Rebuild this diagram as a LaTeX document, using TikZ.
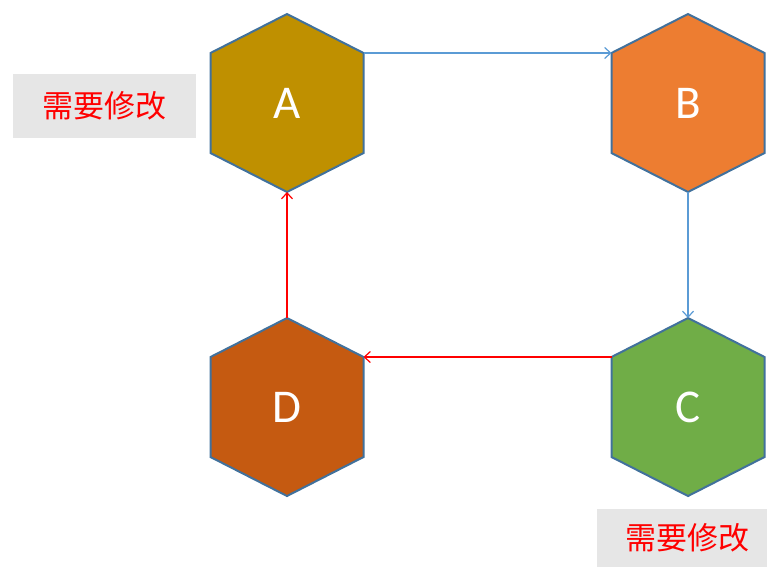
\documentclass[tikz,border=0pt]{standalone}
\usepackage{fontspec}
\setmainfont{Carlito}
\newfontfamily\cjk{Noto Sans CJK SC}
\usetikzlibrary{arrows.meta,backgrounds}
\definecolor{colA}{HTML}{BF9000}
\definecolor{colB}{HTML}{ED7D31}
\definecolor{colC}{HTML}{70AD47}
\definecolor{colD}{HTML}{C55A11}
\definecolor{hexborder}{HTML}{41719C}
\definecolor{lineblue}{HTML}{5B9BD5}
\definecolor{boxgray}{HTML}{E6E6E6}
\tikzset{
  hexnode/.style={rectangle, minimum width=153pt, minimum height=178pt, inner sep=0pt, outer sep=0pt,
    text=white, font=\fontsize{47}{50}\selectfont},
  hexshape/.style={draw=hexborder, line width=2pt, line join=miter},
  conn/.style={line width=1.2pt, -{Straight Barb[length=6pt,width=11pt,line width=1.2pt]}},
  blueconn/.style={conn, draw=lineblue},
  redconn/.style={conn, draw=red},
  notebox/.style={fill=boxgray, inner sep=0pt, text=red, font=\cjk\fontsize{31}{34}\selectfont}
}
\newcommand\drawhex[2]{%
  \path[hexshape, fill=#2] (#1.north) -- ([yshift=-39pt]#1.north east) -- ([yshift=39pt]#1.south east)
    -- (#1.south) -- ([yshift=39pt]#1.south west) -- ([yshift=-39pt]#1.north west) -- cycle;}
\begin{document}
\begin{tikzpicture}[x=1pt,y=-1pt]
\useasboundingbox (0,0) rectangle (767,566);
\node[hexnode] (A) at (287,103) {A};
\node[hexnode] (B) at (688,103) {B};
\node[hexnode] (C) at (688,407) {C};
\node[hexnode] (D) at (287,407) {D};
\begin{scope}[on background layer]
\drawhex{A}{colA}
\drawhex{B}{colB}
\drawhex{C}{colC}
\drawhex{D}{colD}
\end{scope}
\coordinate (Aur) at ([yshift=-39pt]A.north east);
\coordinate (Bul) at ([yshift=-39pt]B.north west);
\coordinate (Cul) at ([yshift=-39pt]C.north west);
\coordinate (Dur) at ([yshift=-39pt]D.north east);
\draw[blueconn] (Aur) -- (Bul);
\draw[blueconn] (B.south) -- (C.north);
\draw[redconn] (Cul) -- (Dur);
\draw[redconn] (D.north) -- (A.south);
\node[notebox, minimum width=183pt, minimum height=64pt] (n1) at (104.5,106) {需要修改};
\node[notebox, minimum width=170pt, minimum height=58pt, text width=170pt, align=center] (n2) at (682,538) {\hspace*{10pt}需要修改};
\end{tikzpicture}
\end{document}
